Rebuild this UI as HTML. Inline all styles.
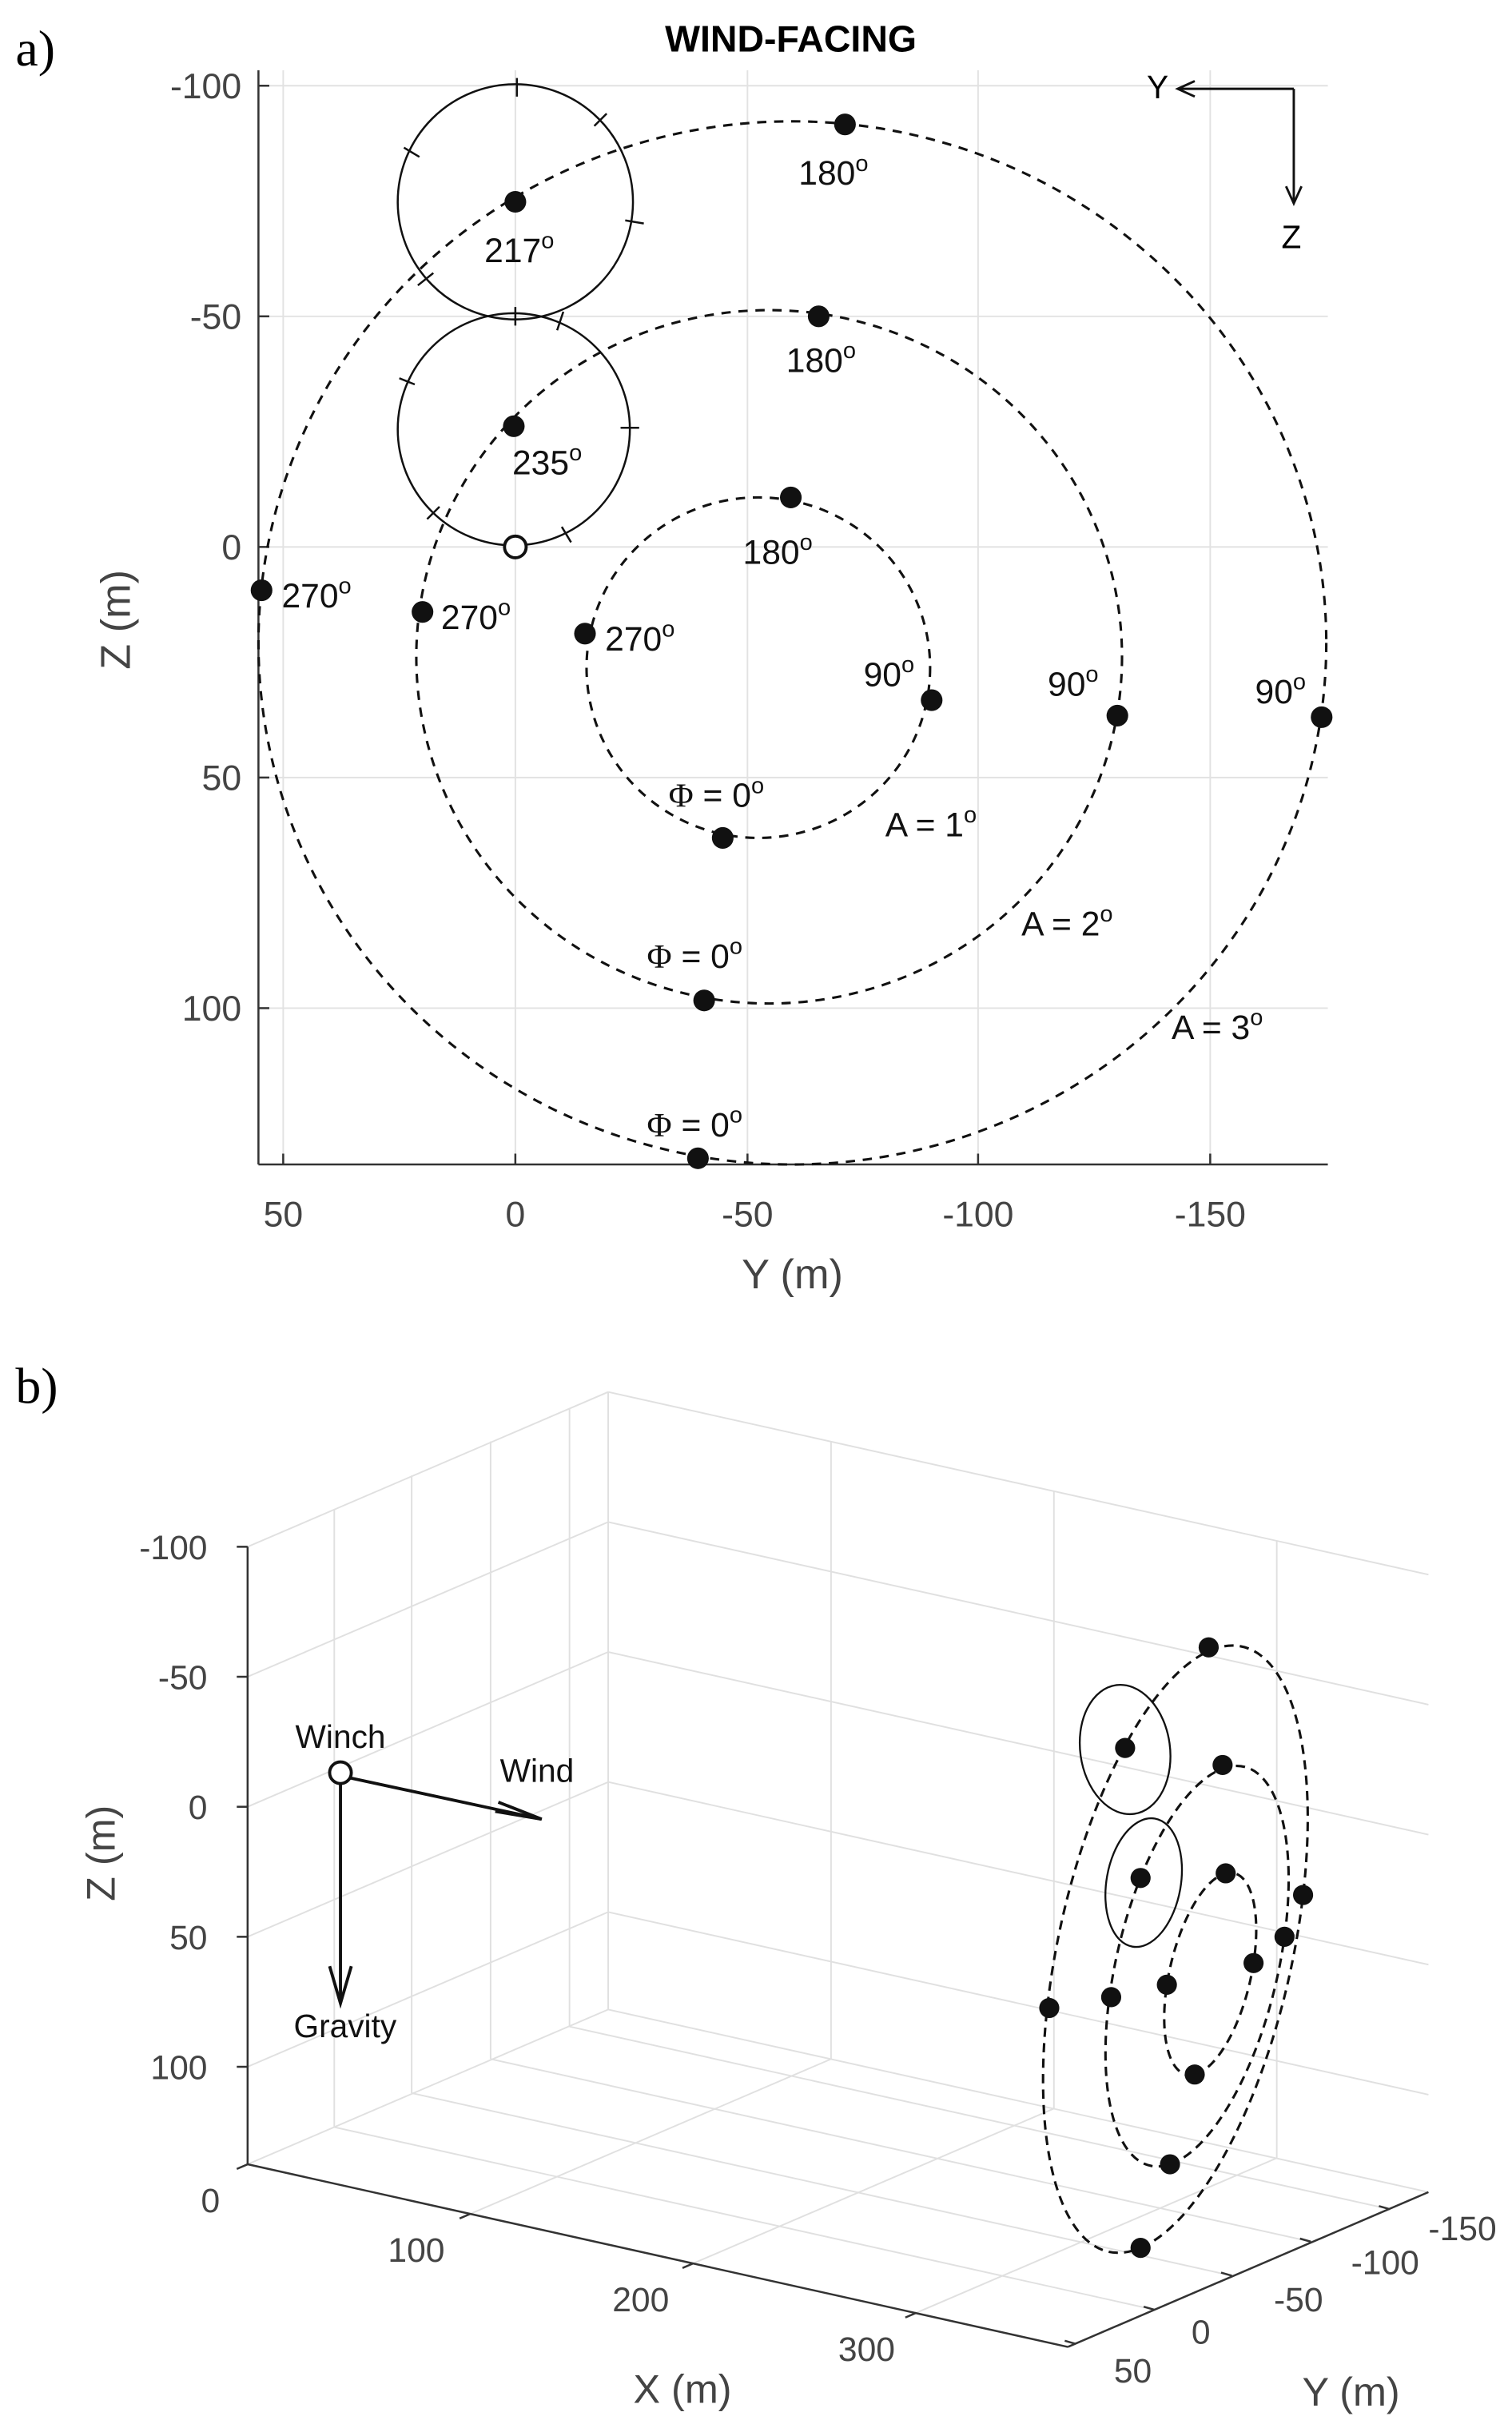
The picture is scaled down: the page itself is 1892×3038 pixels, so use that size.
<!DOCTYPE html>
<html><head><meta charset="utf-8"><style>html,body{margin:0;padding:0;background:#fff}svg{display:block}</style></head>
<body>
<svg width="1892" height="3038" viewBox="0 0 977 1568" xmlns="http://www.w3.org/2000/svg" font-family="Liberation Sans, Arial, sans-serif">
<rect width="977" height="1568" fill="#fff"/>
<!-- ===== Panel a ===== -->
<text x="10" y="42" font-family="Liberation Serif, serif" font-size="33">a)</text>
<text x="511" y="33" font-size="24" font-weight="bold" text-anchor="middle">WIND-FACING</text>
<g stroke="#e2e2e2" stroke-width="1">
<line x1="183" y1="45" x2="183" y2="752"/><line x1="333" y1="45" x2="333" y2="752"/><line x1="483" y1="45" x2="483" y2="752"/><line x1="632" y1="45" x2="632" y2="752"/><line x1="782" y1="45" x2="782" y2="752"/>
<line x1="167" y1="55" x2="858" y2="55"/><line x1="167" y1="204" x2="858" y2="204"/><line x1="167" y1="353" x2="858" y2="353"/><line x1="167" y1="502" x2="858" y2="502"/><line x1="167" y1="651" x2="858" y2="651"/>
</g>
<g stroke="#333" stroke-width="1.3">
<line x1="167" y1="45" x2="167" y2="752"/><line x1="167" y1="752" x2="858" y2="752"/>
<line x1="167" y1="55" x2="174" y2="55"/><line x1="167" y1="204" x2="174" y2="204"/><line x1="167" y1="353" x2="174" y2="353"/><line x1="167" y1="502" x2="174" y2="502"/><line x1="167" y1="651" x2="174" y2="651"/>
<line x1="183" y1="752" x2="183" y2="745"/><line x1="333" y1="752" x2="333" y2="745"/><line x1="483" y1="752" x2="483" y2="745"/><line x1="632" y1="752" x2="632" y2="745"/><line x1="782" y1="752" x2="782" y2="745"/>
</g>
<g font-size="23" fill="#444" text-anchor="end">
<text x="156" y="63">-100</text><text x="156" y="212">-50</text><text x="156" y="361">0</text><text x="156" y="510">50</text><text x="156" y="659">100</text>
</g>
<g font-size="23" fill="#444" text-anchor="middle">
<text x="183" y="792">50</text><text x="333" y="792">0</text><text x="483" y="792">-50</text><text x="632" y="792">-100</text><text x="782" y="792">-150</text>
<text x="512" y="832" font-size="27">Y (m)</text>
<text transform="translate(84,400) rotate(-90)" font-size="27">Z (m)</text>
</g>
<g fill="none" stroke="#111" stroke-width="1.6" stroke-dasharray="6,5">
<ellipse cx="490" cy="431" rx="111" ry="110"/>
<ellipse cx="497" cy="424" rx="228" ry="224"/>
<ellipse cx="512" cy="415" rx="345" ry="337"/>
</g>
<g fill="none" stroke="#111" stroke-width="1.3">
<circle cx="333" cy="130" r="76"/><circle cx="332" cy="277" r="75"/>
<path d="M334 50V62 M384 81L392 73 M404 142L416 144 M271 101L261 95 M280 176L270 184 M333 198V210 M360 213L364 201 M401 276H413 M268 248L258 244 M284 327L276 335 M363 340L369 350"/>
</g>
<g fill="#111">
<circle cx="546" cy="80" r="7"/><circle cx="333" cy="130" r="7"/><circle cx="529" cy="204" r="7"/><circle cx="332" cy="275" r="7"/><circle cx="511" cy="321" r="7"/><circle cx="169" cy="381" r="7"/><circle cx="273" cy="395" r="7"/><circle cx="378" cy="409" r="7"/><circle cx="602" cy="452" r="7"/><circle cx="722" cy="462" r="7"/><circle cx="854" cy="463" r="7"/><circle cx="467" cy="541" r="7"/><circle cx="455" cy="646" r="7"/><circle cx="451" cy="748" r="7"/>
</g>
<circle cx="333" cy="353" r="7" fill="#fff" stroke="#111" stroke-width="2"/>
<g font-size="22" fill="#111">
<text x="516" y="119">180<tspan dy="-9" font-size="15">o</tspan></text>
<text x="313" y="169">217<tspan dy="-9" font-size="15">o</tspan></text>
<text x="508" y="240">180<tspan dy="-9" font-size="15">o</tspan></text>
<text x="331" y="306">235<tspan dy="-9" font-size="15">o</tspan></text>
<text x="480" y="364">180<tspan dy="-9" font-size="15">o</tspan></text>
<text x="182" y="392">270<tspan dy="-9" font-size="15">o</tspan></text>
<text x="285" y="406">270<tspan dy="-9" font-size="15">o</tspan></text>
<text x="391" y="420">270<tspan dy="-9" font-size="15">o</tspan></text>
<text x="558" y="443">90<tspan dy="-9" font-size="15">o</tspan></text>
<text x="677" y="449">90<tspan dy="-9" font-size="15">o</tspan></text>
<text x="811" y="454">90<tspan dy="-9" font-size="15">o</tspan></text>
<text x="432" y="521"><tspan font-family="Liberation Serif, serif">Φ</tspan> = 0<tspan dy="-9" font-size="15">o</tspan></text>
<text x="572" y="540">A = 1<tspan dy="-9" font-size="15">o</tspan></text>
<text x="418" y="625"><tspan font-family="Liberation Serif, serif">Φ</tspan> = 0<tspan dy="-9" font-size="15">o</tspan></text>
<text x="660" y="604">A = 2<tspan dy="-9" font-size="15">o</tspan></text>
<text x="757" y="671">A = 3<tspan dy="-9" font-size="15">o</tspan></text>
<text x="418" y="734"><tspan font-family="Liberation Serif, serif">Φ</tspan> = 0<tspan dy="-9" font-size="15">o</tspan></text>
</g>
<g stroke="#111" stroke-width="1.5" fill="none">
<line x1="836" y1="57" x2="762" y2="57"/><path d="M772 52 L761 57 L772 62"/>
<line x1="836" y1="57" x2="836" y2="130"/><path d="M831 120 L836 131 L841 120"/>
</g>
<text x="741" y="63" font-size="21">Y</text>
<text x="828" y="160" font-size="21">Z</text>

<!-- ===== Panel b ===== -->
<text x="10" y="906" font-family="Liberation Serif, serif" font-size="33">b)</text>
<g stroke="#e0e0e0" stroke-width="1" fill="none">
<line x1="160" y1="999" x2="393" y2="899"/><line x1="160" y1="1083" x2="393" y2="983"/><line x1="160" y1="1167" x2="393" y2="1067"/><line x1="160" y1="1251" x2="393" y2="1151"/><line x1="160" y1="1335" x2="393" y2="1235"/><line x1="160" y1="1398" x2="393" y2="1298"/>
<line x1="393" y1="899" x2="923" y2="1017"/><line x1="393" y1="983" x2="923" y2="1101"/><line x1="393" y1="1067" x2="923" y2="1185"/><line x1="393" y1="1151" x2="923" y2="1269"/><line x1="393" y1="1235" x2="923" y2="1353"/><line x1="393" y1="1298" x2="923" y2="1416"/>
<line x1="393" y1="899" x2="393" y2="1298"/>
<line x1="216" y1="975" x2="216" y2="1374"/><line x1="266" y1="953" x2="266" y2="1352"/><line x1="317" y1="931" x2="317" y2="1330"/><line x1="368" y1="910" x2="368" y2="1309"/>
<line x1="537" y1="931" x2="537" y2="1330"/><line x1="681" y1="963" x2="681" y2="1362"/><line x1="825" y1="995" x2="825" y2="1394"/>
<line x1="216" y1="1374" x2="746" y2="1492"/><line x1="266" y1="1352" x2="796" y2="1470"/><line x1="317" y1="1330" x2="847" y2="1448"/><line x1="368" y1="1309" x2="898" y2="1427"/>
<line x1="304" y1="1430" x2="537" y2="1330"/><line x1="448" y1="1462" x2="681" y2="1362"/><line x1="592" y1="1494" x2="825" y2="1394"/>
</g>
<g stroke="#333" stroke-width="1.3">
<line x1="160" y1="999" x2="160" y2="1398"/><line x1="160" y1="1398" x2="690" y2="1516"/><line x1="690" y1="1516" x2="923" y2="1416"/>
<line x1="153" y1="999" x2="160" y2="999"/><line x1="153" y1="1083" x2="160" y2="1083"/><line x1="153" y1="1167" x2="160" y2="1167"/><line x1="153" y1="1251" x2="160" y2="1251"/><line x1="153" y1="1335" x2="160" y2="1335"/>
<line x1="160" y1="1398" x2="153" y2="1401"/><line x1="304" y1="1430" x2="297" y2="1433"/><line x1="448" y1="1462" x2="441" y2="1465"/><line x1="592" y1="1494" x2="585" y2="1497"/>
<line x1="695" y1="1514" x2="688" y2="1512"/><line x1="746" y1="1492" x2="739" y2="1490"/><line x1="796" y1="1470" x2="789" y2="1468"/><line x1="847" y1="1448" x2="840" y2="1446"/><line x1="898" y1="1427" x2="891" y2="1425"/>
</g>
<g font-size="22" fill="#444">
<g text-anchor="end"><text x="134" y="1007">-100</text><text x="134" y="1091">-50</text><text x="134" y="1175">0</text><text x="134" y="1259">50</text><text x="134" y="1343">100</text></g>
<g text-anchor="middle">
<text x="136" y="1429">0</text><text x="269" y="1461">100</text><text x="414" y="1493">200</text><text x="560" y="1525">300</text>
<text x="732" y="1539">50</text><text x="776" y="1514">0</text><text x="839" y="1493">-50</text><text x="895" y="1469">-100</text><text x="945" y="1447">-150</text>
<text x="441" y="1552" font-size="26">X (m)</text><text x="873" y="1554" font-size="26">Y (m)</text>
<text transform="translate(74,1197) rotate(-90)" font-size="26">Z (m)</text>
</g></g>
<g fill="none" stroke="#111" stroke-width="1.6" stroke-dasharray="6,4">
<path d="M772 1340 C787.5 1336.1 804.5 1303.9 810 1268 C815.5 1232.1 807.5 1206.1 792 1210 C776.5 1213.9 759.5 1246.1 754 1282 C748.5 1317.9 756.5 1343.9 772 1340 Z"/>
<path d="M756 1398 C787.2 1387.5 820.3 1321.7 830 1251 C839.7 1180.3 822.2 1131.5 791 1142 C759.8 1152.5 726.7 1218.3 717 1289 C707.3 1359.7 724.8 1408.5 756 1398 Z"/>
<path d="M737 1452 C782.5 1432.7 829.6 1330.5 842 1224 C854.4 1117.5 827.5 1046.7 782 1066 C736.5 1085.3 689.4 1187.5 677 1294 C664.6 1400.5 691.5 1471.3 737 1452 Z"/>
</g>
<g fill="none" stroke="#111" stroke-width="1.2">
<ellipse cx="727" cy="1130" rx="29" ry="42" transform="rotate(-8 727 1130)"/>
<ellipse cx="739" cy="1216" rx="24" ry="42" transform="rotate(10 739 1216)"/>
</g>
<g fill="#111">
<circle cx="781" cy="1064" r="6.5"/><circle cx="727" cy="1129" r="6.5"/><circle cx="790" cy="1140" r="6.5"/><circle cx="737" cy="1213" r="6.5"/><circle cx="792" cy="1210" r="6.5"/><circle cx="842" cy="1224" r="6.5"/><circle cx="830" cy="1251" r="6.5"/><circle cx="810" cy="1268" r="6.5"/><circle cx="754" cy="1282" r="6.5"/><circle cx="718" cy="1290" r="6.5"/><circle cx="678" cy="1297" r="6.5"/><circle cx="772" cy="1340" r="6.5"/><circle cx="756" cy="1398" r="6.5"/><circle cx="737" cy="1452" r="6.5"/>
</g>
<g stroke="#111" stroke-width="2" fill="none">
<line x1="220" y1="1147" x2="350" y2="1175"/><path d="M322 1164 L350 1175 L320 1170"/>
<line x1="220" y1="1147" x2="220" y2="1292"/><path d="M213 1270 L220 1294 L227 1270"/>
</g>
<circle cx="220" cy="1145" r="7" fill="#fff" stroke="#111" stroke-width="2"/>
<g font-size="21" fill="#111" text-anchor="middle">
<text x="220" y="1129">Winch</text><text x="347" y="1151">Wind</text><text x="223" y="1316">Gravity</text>
</g>
</svg>
</body></html>
